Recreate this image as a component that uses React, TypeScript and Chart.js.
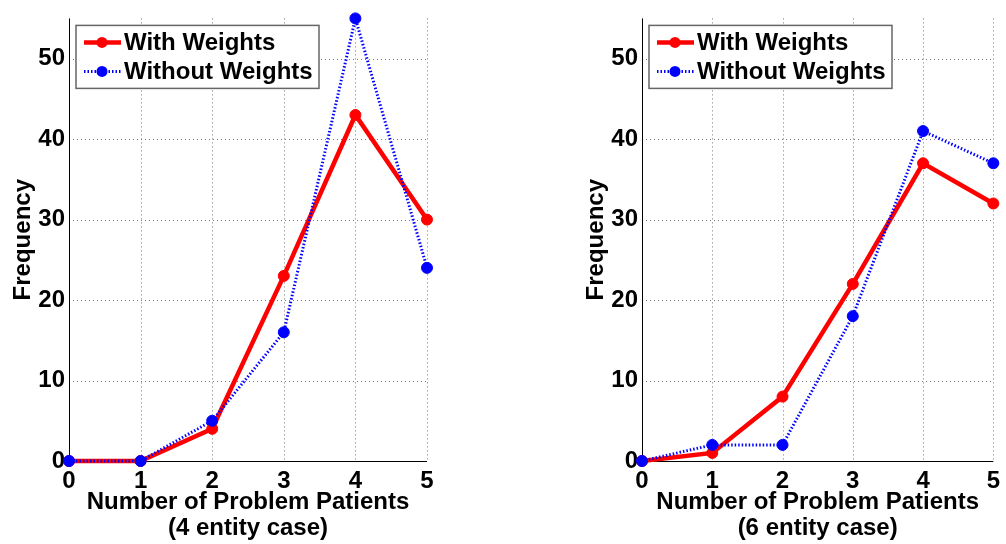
import React, { useEffect, useRef } from "react";
import { Chart, registerables } from "chart.js";
Chart.register(...registerables);

const xValues = [0, 1, 2, 3, 4, 5];
const xTicks = [0, 1, 2, 3, 4, 5];
const yTicks = [0, 10, 20, 30, 40, 50];
const with4 = [0, 0, 4, 23, 43, 30];
const without4 = [0, 0, 5, 16, 55, 24];
const with6 = [0, 1, 8, 22, 37, 32];
const without6 = [0, 2, 2, 18, 41, 37];
const seriesLabels = ["With Weights", "Without Weights"];
const xTitle = "Number of Problem Patients";
const subtitles = ["(4 entity case)", "(6 entity case)"];
const yTitle = "Frequency";

const FONT = '"Liberation Sans", Arial, Helvetica, sans-serif';
const RED = "#ff0000";
const BLUE = "#0000ff";

function makeOverlay(subtitle: string) {
  return {
    id: "overlay",
    beforeDatasetsDraw(chart: any) {
      const { ctx, chartArea } = chart;
      const { left, right, top, bottom } = chartArea;
      const xs = chart.scales.x;
      const ys = chart.scales.y;
      ctx.save();
      ctx.strokeStyle = "#777";
      ctx.lineWidth = 1;
      ctx.setLineDash([1, 3]);
      xTicks.forEach((v) => {
        if (v === 0) return;
        const px = Math.round(xs.getPixelForValue(v)) + 0.5;
        ctx.beginPath();
        ctx.moveTo(px, top);
        ctx.lineTo(px, bottom);
        ctx.stroke();
      });
      yTicks.forEach((v) => {
        if (v === 0) return;
        const py = Math.round(ys.getPixelForValue(v)) + 0.5;
        ctx.beginPath();
        ctx.moveTo(left, py);
        ctx.lineTo(right, py);
        ctx.stroke();
      });
      ctx.setLineDash([]);
      ctx.strokeStyle = "#000";
      ctx.lineWidth = 1;
      ctx.beginPath();
      ctx.moveTo(Math.round(left) + 0.5, top);
      ctx.lineTo(Math.round(left) + 0.5, Math.round(bottom) + 0.5);
      ctx.lineTo(right, Math.round(bottom) + 0.5);
      ctx.stroke();
      ctx.restore();
    },
    afterDraw(chart: any) {
      const { ctx, chartArea } = chart;
      const { left, right, top, bottom } = chartArea;
      ctx.save();
      ctx.fillStyle = "#000";
      ctx.font = `bold 24px ${FONT}`;
      ctx.textAlign = "center";
      ctx.textBaseline = "alphabetic";
      const cx = (left + right) / 2;
      ctx.fillText(xTitle, cx, bottom + 48);
      ctx.fillText(subtitle, cx, bottom + 74);
      ctx.save();
      ctx.translate(left - 46, (top + bottom) / 2);
      ctx.rotate(-Math.PI / 2);
      ctx.textBaseline = "middle";
      ctx.fillText(yTitle, 0, 0);
      ctx.restore();

      // legend
      const lx = left + 7;
      const ly = top + 7;
      const lw = 243;
      const lh = 63;
      ctx.fillStyle = "#fff";
      ctx.fillRect(lx, ly, lw, lh);
      ctx.strokeStyle = "#666";
      ctx.lineWidth = 1.5;
      ctx.strokeRect(lx, ly, lw, lh);
      const rows = [
        { y: top + 24, base: top + 32, color: RED, width: 4.5, dash: [] as number[] },
        { y: top + 53, base: top + 61, color: BLUE, width: 3, dash: [1.5, 2] },
      ];
      rows.forEach((r, i) => {
        ctx.strokeStyle = r.color;
        ctx.lineWidth = r.width;
        ctx.setLineDash(r.dash);
        ctx.beginPath();
        ctx.moveTo(left + 15, r.y);
        ctx.lineTo(left + 52, r.y);
        ctx.stroke();
        ctx.setLineDash([]);
        ctx.fillStyle = r.color;
        ctx.beginPath();
        ctx.arc(left + 33, r.y, 5.5, 0, Math.PI * 2);
        ctx.fill();
        ctx.fillStyle = "#000";
        ctx.textAlign = "left";
        ctx.font = `bold 24px ${FONT}`;
        ctx.fillText(seriesLabels[i], left + 55, r.base);
      });
      ctx.restore();
    },
  };
}

function Panel(props: {
  withData: number[];
  withoutData: number[];
  subtitle: string;
  axisWidth: number;
  rightPad: number;
  offsetLeft: number;
}) {
  const ref = useRef<HTMLCanvasElement | null>(null);
  useEffect(() => {
    if (!ref.current) return;
    const tickFont = { family: FONT, size: 24, weight: "bold" as const };
    const chart = new Chart(ref.current, {
      type: "line",
      data: {
        labels: xValues,
        datasets: [
          {
            label: seriesLabels[0],
            data: xValues.map((x, i) => ({ x, y: props.withData[i] })),
            borderColor: RED,
            backgroundColor: RED,
            borderWidth: 4.5,
            pointRadius: 5.5,
            pointBackgroundColor: RED,
            pointBorderColor: RED,
            pointBorderWidth: 1,
            tension: 0,
            clip: false as any,
            order: 2,
          },
          {
            label: seriesLabels[1],
            data: xValues.map((x, i) => ({ x, y: props.withoutData[i] })),
            borderColor: BLUE,
            backgroundColor: BLUE,
            borderWidth: 3,
            borderDash: [1.5, 2],
            pointRadius: 5.5,
            pointBackgroundColor: BLUE,
            pointBorderColor: BLUE,
            pointBorderWidth: 1,
            tension: 0,
            clip: false as any,
            order: 1,
          },
        ],
      },
      options: {
        responsive: false,
        animation: false,
        devicePixelRatio: 1,
        layout: { padding: { left: 0, right: props.rightPad, top: 15, bottom: 0 } },
        plugins: { legend: { display: false }, tooltip: { enabled: false } },
        scales: {
          x: {
            type: "linear",
            min: 0,
            max: 5,
            afterBuildTicks: (s: any) => {
              s.ticks = xTicks.map((v) => ({ value: v }));
            },
            afterFit: (s: any) => {
              s.height = 83;
            },
            grid: { display: false, drawTicks: false, tickLength: 0 },
            border: { display: false },
            ticks: { font: tickFont, color: "#000", padding: 6, maxRotation: 0, autoSkip: false },
          },
          y: {
            type: "linear",
            min: 0,
            max: 55,
            afterBuildTicks: (s: any) => {
              s.ticks = yTicks.map((v) => ({ value: v }));
            },
            afterFit: (s: any) => {
              s.width = props.axisWidth;
            },
            grid: { display: false, drawTicks: false, tickLength: 0 },
            border: { display: false },
            ticks: { font: tickFont, color: "#000", padding: 4, autoSkip: false },
          },
        },
      },
      plugins: [makeOverlay(props.subtitle)],
    });
    return () => chart.destroy();
  }, []);
  return (
    <canvas
      ref={ref}
      width={503}
      height={544}
      style={{ position: "absolute", left: props.offsetLeft, top: 0, width: 503, height: 544 }}
    />
  );
}

export default function App() {
  return (
    <div style={{ position: "absolute", left: 0, top: 0, width: 1006, height: 544, background: "#fff" }}>
      <Panel withData={with4} withoutData={without4} subtitle={subtitles[0]} axisWidth={69} rightPad={76} offsetLeft={0} />
      <Panel withData={with6} withoutData={without6} subtitle={subtitles[1]} axisWidth={139} rightPad={6} offsetLeft={503} />
    </div>
  );
}
